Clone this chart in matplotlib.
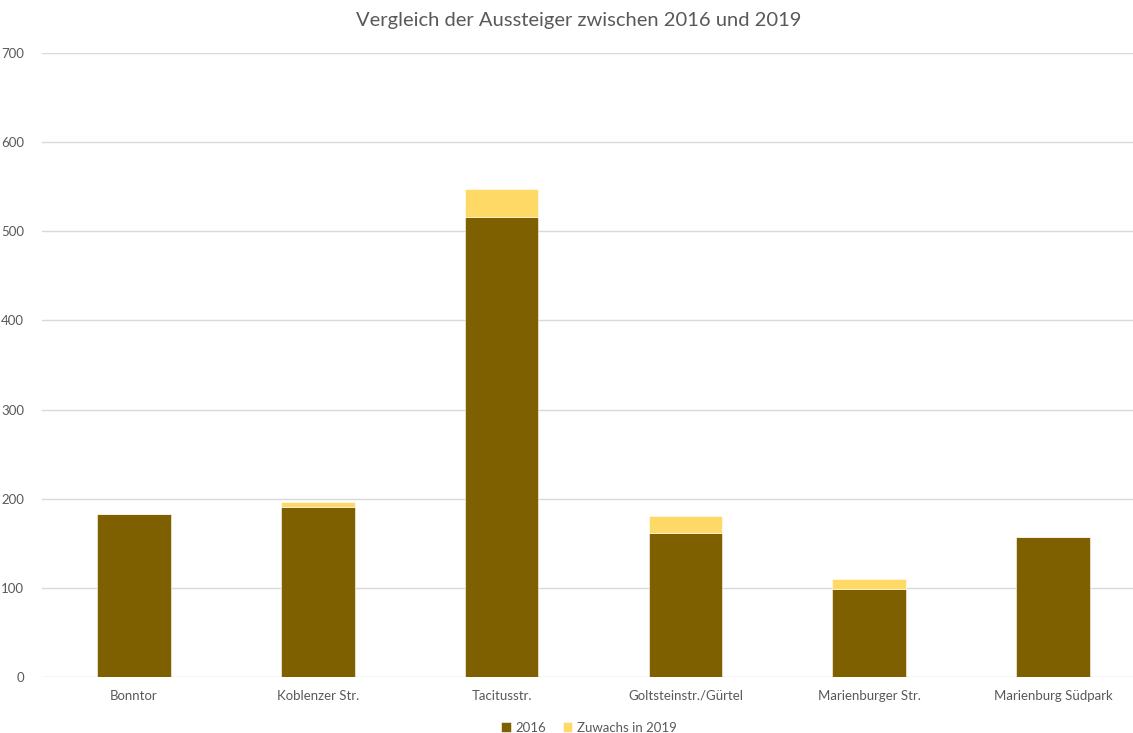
import numpy as np
import matplotlib.pyplot as plt

# Daten
haltestellen = ['Bonntor', 'Koblenzer Str.', 'Tacitusstr.', 'Goltsteinstr./Gürtel',
                'Marienburger Str.', 'Marienburg Südpark']
werte_2016 = [183, 191, 516, 161, 99, 157]
zuwachs_2019 = [0, 5, 31, 20, 11, 0]

plt.rcParams['font.family'] = ['Lato', 'DejaVu Sans']

fig = plt.figure(figsize=(11.33, 7.33), dpi=100)
ax = fig.add_axes([42/1133, 56/733, 1103/1133, 624/733])

x = np.arange(len(haltestellen))
breite = 0.4
ax.bar(x, werte_2016, breite, color='#7F6000', label='2016', zorder=3,
       edgecolor='#FFFFFF', linewidth=0.4)
ax.bar(x, zuwachs_2019, breite, bottom=werte_2016, color='#FFD966',
       label='Zuwachs in 2019', zorder=3, edgecolor='#FFFFFF', linewidth=0.4)

ax.set_xlim(-0.5, len(haltestellen) - 0.5)
ax.set_ylim(0, 700)
ax.set_yticks(range(0, 701, 100))
ax.set_xticks(x)
ax.set_xticklabels(haltestellen)
ax.grid(axis='y', color='#D9D9D9', linewidth=1, zorder=0)
for s in ax.spines.values():
    s.set_visible(False)
ax.tick_params(length=0, colors='#595959', labelsize=9.5)
ax.tick_params(axis='y', pad=13)
ax.tick_params(axis='x', pad=9)

fig.suptitle('Vergleich der Aussteiger zwischen 2016 und 2019', x=0.511, y=0.983,
             fontsize=14.5, color='#595959')
fig.legend(loc='lower center', bbox_to_anchor=(0.52, -0.017), ncol=2,
           frameon=False, fontsize=9.5, labelcolor='#595959',
           handlelength=0.7, handleheight=0.7, handletextpad=0.4, columnspacing=1.2)

fig.savefig('out.png', dpi=100)
